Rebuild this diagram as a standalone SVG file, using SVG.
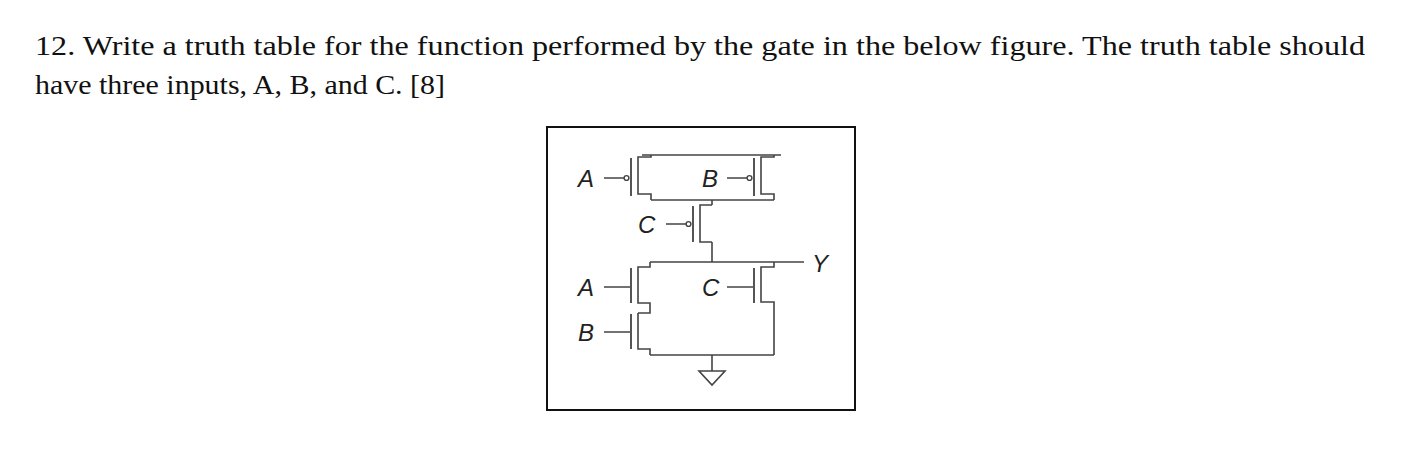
<svg xmlns="http://www.w3.org/2000/svg" width="1410" height="464" viewBox="0 0 1410 464">
<style>
.t{font-family:"Liberation Serif",serif;font-size:27px;fill:#111}
.l{font-family:"Liberation Sans",sans-serif;font-size:24px;font-style:italic;fill:#222}
.w{fill:none;stroke:#444;stroke-width:1.6}
.g{fill:none;stroke:#555;stroke-width:2}
.b{fill:#fff;stroke:#444;stroke-width:1.4}
</style>
<rect width="1410" height="464" fill="#fff"/>
<text class="t" x="35" y="55" textLength="1330" lengthAdjust="spacingAndGlyphs">12. Write a truth table for the function performed by the gate in the below figure. The truth table should</text>
<text class="t" x="35" y="94" textLength="410" lengthAdjust="spacingAndGlyphs">have three inputs, A, B, and C. [8]</text>
<rect x="547" y="127" width="308" height="283" fill="none" stroke="#111" stroke-width="2"/>
<g id="connectors">
<path class="w" d="M642 155H781 M651 200H774 M712 200V205 M712 242V262 M650 262H804 M650 355H774 M712 355V371"/>
</g>
<g id="pA">
<text class="l" x="578" y="187">A</text>
<path class="w" d="M604 178H624 M651 155V157H638V194H651V200"/>
<path class="g" d="M631 158V196"/><circle class="b" cx="626.5" cy="178" r="2.4"/>
</g>
<g id="pB">
<text class="l" x="702" y="187">B</text>
<path class="w" d="M727 178H747 M774 155V157H761V194H774V200"/>
<path class="g" d="M754 158V196"/><circle class="b" cx="749.5" cy="178" r="2.4"/>
</g>
<g id="pC">
<text class="l" x="638" y="233">C</text>
<path class="w" d="M666 224H686 M712 205H700V242H712"/>
<path class="g" d="M693 206V242"/><circle class="b" cx="688.5" cy="224" r="2.4"/>
</g>
<g id="nA">
<text class="l" x="578" y="296">A</text>
<path class="w" d="M604 287H631 M650 262V267H638V303H650V313H638"/>
<path class="g" d="M631 268V303"/>
</g>
<g id="nB">
<text class="l" x="578" y="341">B</text>
<path class="w" d="M604 332H631 M638 313V349H650V355"/>
<path class="g" d="M631 314V349"/>
</g>
<g id="nC">
<text class="l" x="702" y="296">C</text>
<path class="w" d="M727 287H754 M774 262V267H761V302H774V355"/>
<path class="g" d="M754 268V303"/>
</g>
<g id="Y"><text class="l" x="812" y="272">Y</text></g>
<g id="gnd"><path class="w" d="M699 371H725L712 385Z"/></g>
</svg>
